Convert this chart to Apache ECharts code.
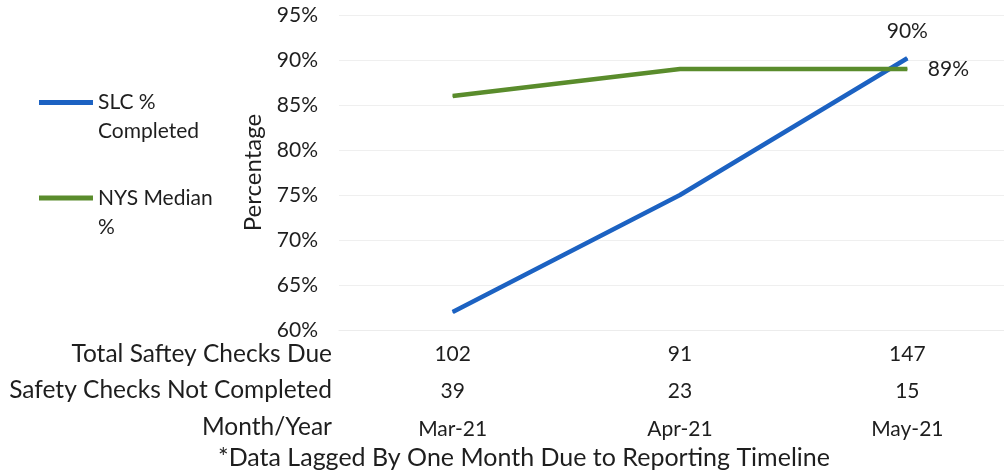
<!DOCTYPE html>
<html><head><meta charset="utf-8">
<script src="https://cdn.jsdelivr.net/npm/echarts@6/dist/echarts.min.js"></script>
<style>html,body{margin:0;padding:0;background:#fff}#c{width:1004px;height:472px}</style>
</head><body><div id="c"></div>
<script>
const months = ['Mar-21','Apr-21','May-21'];
const slcPct = [62, 75, 90.2];
const nysPct = [86, 89, 89];
const totalDue = [102, 91, 147];
const notCompleted = [39, 23, 15];
const rowHeaders = ['Total Saftey Checks Due','Safety Checks Not Completed','Month/Year'];
const footnote = '*Data Lagged By One Month Due to Reporting Timeline';

const FONT = 'Lato';
const TXT = '#1e1e1e';
const chart = echarts.init(document.getElementById('c'));
const rowY = [354, 390, 427];
const graphics = rowHeaders.map((t, i) => ({
  type: 'text', x: 332, y: rowY[i],
  style: { text: t, fill: TXT, font: '24.5px ' + FONT, align: 'right', verticalAlign: 'middle' }
}));
graphics.push({ type: 'text', x: 218, y: 458,
  style: { text: footnote, fill: TXT, font: '25px ' + FONT, align: 'left', verticalAlign: 'middle' } });

// legend icon: 5px bar at the top of a taller box so it lines up with the first text line
const icon = 'path://M0,0H54V5H0Z M0,34H0.01V34.01H0Z';

chart.setOption({
  animation: false,
  textStyle: { fontFamily: FONT },
  legend: {
    orient: 'vertical', left: 39, top: 88, itemGap: 37.5, padding: 0,
    itemWidth: 54, itemHeight: 34, icon: icon,
    textStyle: { fontSize: 21, color: TXT, fontFamily: FONT, lineHeight: 29 },
    formatter: n => n === 'SLC % Completed' ? 'SLC %\nCompleted' : 'NYS Median\n%'
  },
  grid: { left: 339, top: 15, width: 682, height: 315, outerBoundsMode: 'none', containLabel: false },
  xAxis: {
    type: 'category', data: months, boundaryGap: true,
    axisLine: { lineStyle: { color: '#ececec' } },
    axisTick: { length: 108, lineStyle: { color: '#ececec' } },
    axisLabel: {
      margin: 5, color: TXT, fontSize: 21, lineHeight: 37.5,
      formatter: (v, i) => totalDue[i] + '\n' + notCompleted[i] + '\n' + v
    }
  },
  yAxis: {
    type: 'value', min: 60, max: 95, interval: 5,
    name: 'Percentage', nameLocation: 'middle', nameGap: 74, nameRotate: 90,
    nameTextStyle: { fontSize: 24, color: TXT },
    axisLabel: { formatter: '{value}%', color: TXT, fontSize: 21, margin: 21 },
    splitLine: { lineStyle: { color: '#efefef' } },
    axisLine: { show: false }, axisTick: { show: false }
  },
  series: [
    { name: 'SLC % Completed', type: 'line', data: slcPct, symbol: 'circle', symbolSize: 1,
      lineStyle: { width: 4.5, color: '#1c62c2' }, itemStyle: { color: '#1c62c2' },
      label: { show: true, position: 'top', distance: 16, fontSize: 21, color: TXT,
        formatter: p => p.dataIndex === 2 ? Math.round(p.value) + '%' : '' } },
    { name: 'NYS Median %', type: 'line', data: nysPct, symbol: 'circle', symbolSize: 1,
      lineStyle: { width: 4.5, color: '#5a8c2c' }, itemStyle: { color: '#5a8c2c' },
      label: { show: true, position: 'right', distance: 20, fontSize: 21, color: TXT,
        formatter: p => p.dataIndex === 2 ? p.value + '%' : '' } }
  ],
  graphic: graphics
});
</script></body></html>
